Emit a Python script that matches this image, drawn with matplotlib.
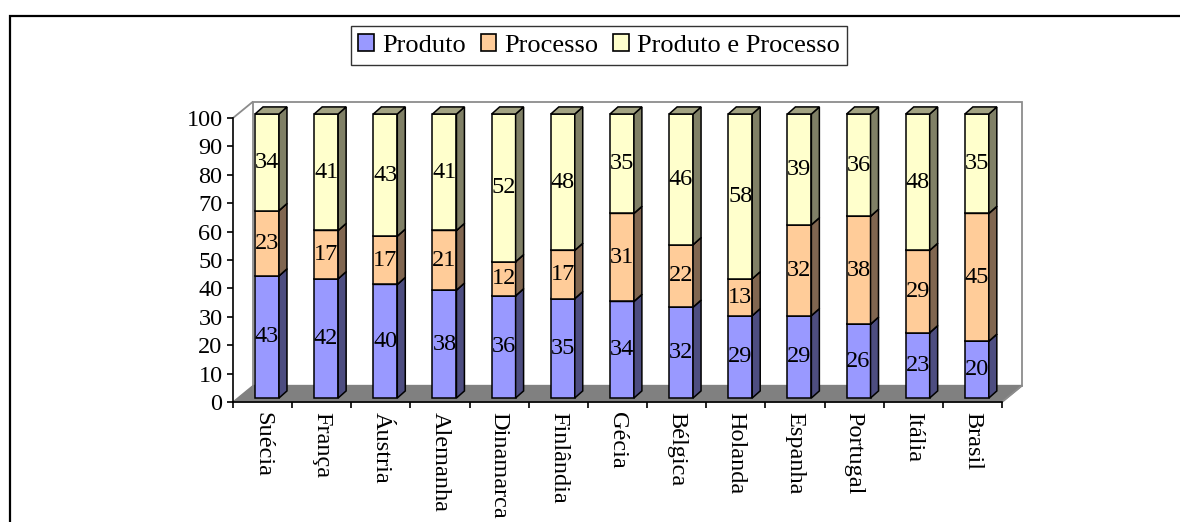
import numpy as np
import matplotlib
matplotlib.use("Agg")
import matplotlib.pyplot as plt
from matplotlib.patches import Polygon, Rectangle, Patch

plt.rcParams["font.family"] = ["Liberation Serif", "DejaVu Serif"]

paises = ["Suécia", "França", "Áustria", "Alemanha", "Dinamarca", "Finlândia", "Gécia",
          "Bélgica", "Holanda", "Espanha", "Portugal", "Itália", "Brasil"]
produto = [43, 42, 40, 38, 36, 35, 34, 32, 29, 29, 26, 23, 20]
processo = [23, 17, 17, 21, 12, 17, 31, 22, 13, 32, 38, 29, 45]
produto_processo = [34, 41, 43, 41, 52, 48, 35, 46, 58, 39, 36, 48, 35]

series = [("Produto", produto, "#9999FF", "#4D4D80", "#5E5E9E"),
          ("Processo", processo, "#FFCC99", "#806650", "#9E7E60"),
          ("Produto e Processo", produto_processo, "#FFFFCC", "#808066", "#A3A383")]

# pseudo-3D geometry in data units
floor_dx, floor_dy = 0.34, 5.8
bar_dx, bar_dy = 0.075, 1.4
side_dx, side_dy = 0.135, 2.5
largura = 0.405

fig = plt.figure(figsize=(11.8, 5.22), dpi=100)
ax = fig.add_axes([233 / 1180, 120 / 522, 769 / 1180, 284 / 522])
n = len(paises)
ax.set_xlim(-0.5, n - 0.5)
ax.set_ylim(0, 100)

# back wall, left wall and floor
x0, x1 = -0.5, n - 0.5
ax.add_patch(Polygon([(x0 + floor_dx, floor_dy), (x1 + floor_dx, floor_dy),
                      (x1 + floor_dx, 100 + floor_dy), (x0 + floor_dx, 100 + floor_dy)],
                     closed=True, fc="white", ec="#8C8C8C", lw=1.3, clip_on=False, zorder=0))
ax.add_patch(Polygon([(x0, 100), (x0 + floor_dx, 100 + floor_dy)],
                     closed=False, fill=False, ec="#8C8C8C", lw=1.3, clip_on=False, zorder=0.5))
ax.add_patch(Polygon([(x0, 0), (x1, 0), (x1 + floor_dx, floor_dy), (x0 + floor_dx, floor_dy)],
                     closed=True, fc="#808080", ec="#808080", lw=1, clip_on=False, zorder=0.6))
ax.add_patch(Polygon([(x1, 0), (x1 + floor_dx, floor_dy)],
                     closed=False, fill=False, ec="#8C8C8C", lw=1.3, clip_on=False, zorder=0.7))

xs = np.arange(n) + bar_dx
base = np.zeros(n)
z = 2
for nome, vals, cor, lado, topo in series:
    vals = np.array(vals, dtype=float)
    ax.bar(xs, vals, bottom=base + bar_dy, width=largura, color=cor,
           edgecolor="black", linewidth=1.1, zorder=z, clip_on=False)
    for i in range(n):
        xl = xs[i] - largura / 2
        xr = xs[i] + largura / 2
        b = base[i] + bar_dy
        t = b + vals[i]
        ax.add_patch(Polygon([(xr, b), (xr + side_dx, b + side_dy),
                              (xr + side_dx, t + side_dy), (xr, t)],
                             closed=True, fc=lado, ec="black", lw=1.1, zorder=z, clip_on=False))
        ax.add_patch(Polygon([(xl, t), (xr, t), (xr + side_dx, t + side_dy), (xl + side_dx, t + side_dy)],
                             closed=True, fc=topo, ec="black", lw=1.1, zorder=z, clip_on=False))
        ax.text(xs[i], b + vals[i] / 2, f"{int(vals[i])}", ha="center", va="center",
                fontsize=17.5, zorder=z + 0.5)
    base = base + vals
    z += 1

for s in ["top", "right"]:
    ax.spines[s].set_visible(False)
for s in ["left", "bottom"]:
    ax.spines[s].set_linewidth(1.2)
    ax.spines[s].set_zorder(1)

ax.set_yticks(np.arange(0, 101, 10))
ax.tick_params(axis="y", labelsize=17.5, length=4.5, width=1.2, pad=3)
ax.set_xticks(np.arange(n))
ax.set_xticklabels(paises, rotation=270, fontsize=17.5)
ax.tick_params(axis="x", which="major", length=0, pad=7)
ax.set_xticks(np.arange(-0.5, n, 1), minor=True)
ax.tick_params(axis="x", which="minor", length=4.5, width=1.2)
ax.patch.set_visible(False)

handles = [Patch(facecolor=c, edgecolor="black", linewidth=1.2) for _, _, c, _, _ in series]
leg = fig.legend(handles, [s[0] for s in series], loc="center", ncol=3,
                 bbox_to_anchor=(599 / 1180, 1 - 45.5 / 522), fontsize=19,
                 frameon=True, fancybox=False, shadow=False, edgecolor="black",
                 handlelength=0.6, handleheight=0.6, handletextpad=0.3,
                 columnspacing=0.55, borderpad=0.3)
leg.get_frame().set_linewidth(1.0)

fig.add_artist(Rectangle((10 / 1180, -0.1), 2, 1.1 - 16 / 522, transform=fig.transFigure,
                         fill=False, ec="black", lw=1.6))

fig.savefig("out.png", dpi=100)
